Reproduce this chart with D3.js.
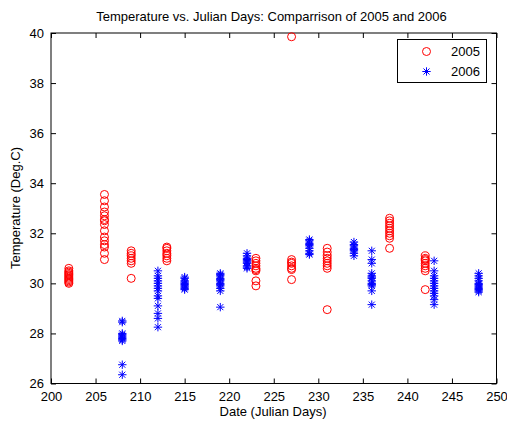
<!DOCTYPE html>
<html lang="en">
<head>
<meta charset="UTF-8">
<title>Temperature vs. Julian Days</title>
<script src="https://cdn.jsdelivr.net/npm/d3@7/dist/d3.min.js"></script>
<style>
  body { margin: 0; background: #fff; }
  text { font-family: "Liberation Sans", Arial, sans-serif; fill: #000; }
</style>
</head>
<body>
<svg width="507" height="421"></svg>
<script>
// Julian day columns and the temperatures read at each one
const days2005 = [202, 206, 209, 213, 223, 227, 231, 238, 242];
const temps2005 = [
  [30.0, 30.05, 30.1, 30.15, 30.2, 30.25, 30.3, 30.35, 30.4, 30.45, 30.5, 30.6],
  [33.55, 33.3, 33.05, 32.85, 32.7, 32.55, 32.5, 32.35, 32.1, 31.85, 31.7, 31.55, 31.45, 31.2, 30.95],
  [31.3, 31.2, 31.1, 31.0, 30.9, 30.8, 30.2],
  [31.45, 31.4, 31.3, 31.2, 31.1, 31.0, 30.9],
  [31.0, 30.9, 30.8, 30.7, 30.6, 30.55, 30.5, 30.1, 29.9],
  [39.85, 30.95, 30.85, 30.8, 30.7, 30.6, 30.55, 30.15],
  [31.4, 31.25, 31.1, 31.0, 30.9, 30.8, 30.7, 30.6, 28.95],
  [32.6, 32.5, 32.4, 32.3, 32.2, 32.1, 32.0, 31.9, 31.8, 31.4],
  [31.1, 31.0, 30.95, 30.9, 30.8, 30.7, 30.6, 30.5, 29.75]
];
const days2006 = [208, 212, 215, 219, 222, 229, 234, 236, 243, 248];
const temps2006 = [
  [28.5, 28.45, 28.0, 27.95, 27.9, 27.85, 27.8, 27.75, 27.7, 26.75, 26.35],
  [30.5, 30.3, 30.2, 30.1, 30.0, 29.9, 29.8, 29.7, 29.5, 29.4, 29.1, 28.8, 28.6, 28.25],
  [30.25, 30.2, 30.1, 30.05, 30.0, 29.95, 29.9, 29.85, 29.8, 29.75],
  [30.4, 30.35, 30.3, 30.2, 30.15, 30.1, 30.0, 29.95, 29.9, 29.8, 29.7, 29.05],
  [31.2, 31.1, 31.0, 30.95, 30.9, 30.85, 30.8, 30.7, 30.65, 30.6],
  [31.75, 31.7, 31.6, 31.55, 31.5, 31.4, 31.3, 31.2, 31.15],
  [31.65, 31.55, 31.5, 31.4, 31.35, 31.3, 31.2, 31.1],
  [31.3, 30.95, 30.8, 30.4, 30.3, 30.25, 30.2, 30.1, 30.0, 29.95, 29.9, 29.7, 29.15],
  [30.9, 30.5, 30.3, 30.2, 30.1, 30.0, 29.9, 29.8, 29.7, 29.6, 29.5, 29.35, 29.15],
  [30.4, 30.3, 30.2, 30.1, 30.0, 29.95, 29.9, 29.85, 29.8, 29.75, 29.7, 29.65]
];
const xTicks = [200, 205, 210, 215, 220, 225, 230, 235, 240, 245, 250];
const yTicks = [26, 28, 30, 32, 34, 36, 38, 40];
const seriesNames = ["2005", "2006"];

const svg = d3.select("svg");
const x = d3.scaleLinear().domain([200, 250]).range([51, 496.5]);
const y = d3.scaleLinear().domain([26, 40]).range([383.5, 33]);

const flat = (days, temps) => days.flatMap((d, i) => temps[i].map(t => ({ day: d, temp: t })));
const pts2005 = flat(days2005, temps2005);
const pts2006 = flat(days2006, temps2006);

// axes, ticks pointing inward, mirrored on top and right
const fontSize = "13px";
svg.append("g")
  .attr("transform", `translate(0,${y(26)})`)
  .call(d3.axisBottom(x).tickValues(xTicks).tickSize(-5).tickPadding(6))
  .call(g => g.select(".domain").remove())
  .call(g => g.selectAll("text").attr("font-size", fontSize).attr("dy", "0.9em"));
svg.append("g")
  .attr("transform", `translate(0,${y(40)})`)
  .call(d3.axisTop(x).tickValues(xTicks).tickSize(-5).tickFormat(""))
  .call(g => g.select(".domain").remove());
svg.append("g")
  .attr("transform", `translate(${x(200)},0)`)
  .call(d3.axisLeft(y).tickValues(yTicks).tickSize(-5).tickPadding(7))
  .call(g => g.select(".domain").remove())
  .call(g => g.selectAll("text").attr("font-size", fontSize));
svg.append("g")
  .attr("transform", `translate(${x(250)},0)`)
  .call(d3.axisRight(y).tickValues(yTicks).tickSize(-5).tickFormat(""))
  .call(g => g.select(".domain").remove());
svg.selectAll(".tick line").attr("stroke", "#000");

svg.append("rect")
  .attr("x", x(200)).attr("y", y(40))
  .attr("width", x(250) - x(200)).attr("height", y(26) - y(40))
  .attr("fill", "none").attr("stroke", "#000").attr("stroke-width", 1);

// markers
const starPath = r => {
  const a = r * 0.72;
  return `M${-r},0L${r},0M0,${-r}L0,${r}M${-a},${-a}L${a},${a}M${-a},${a}L${a},${-a}`;
};

svg.append("g").selectAll("circle")
  .data(pts2005).join("circle")
  .attr("cx", d => x(d.day)).attr("cy", d => y(d.temp))
  .attr("r", 4)
  .attr("fill", "none").attr("stroke", "#ff0000").attr("stroke-width", 1);

svg.append("g").selectAll("path")
  .data(pts2006).join("path")
  .attr("transform", d => `translate(${x(d.day)},${y(d.temp)})`)
  .attr("d", starPath(4.2))
  .attr("fill", "none").attr("stroke", "#0000ff").attr("stroke-width", 1);

// legend
const lg = svg.append("g");
lg.append("rect")
  .attr("x", 397.5).attr("y", 39.5).attr("width", 89).attr("height", 43)
  .attr("fill", "#fff").attr("stroke", "#000");
seriesNames.forEach((name, i) => {
  const cy = 51.5 + i * 20;
  if (i === 0) {
    lg.append("circle").attr("cx", 426.5).attr("cy", cy).attr("r", 4)
      .attr("fill", "none").attr("stroke", "#ff0000");
  } else {
    lg.append("path").attr("transform", `translate(426.5,${cy})`).attr("d", starPath(4.2))
      .attr("fill", "none").attr("stroke", "#0000ff");
  }
  lg.append("text").attr("x", 480).attr("y", cy).attr("dy", "0.35em")
    .attr("text-anchor", "end").attr("font-size", fontSize).text(name);
});

// titles
svg.append("text").attr("x", 271.5).attr("y", 21).attr("text-anchor", "middle")
  .attr("font-size", fontSize).text("Temperature vs. Julian Days: Comparrison of 2005 and 2006");
svg.append("text").attr("x", 273).attr("y", 416).attr("text-anchor", "middle")
  .attr("font-size", fontSize).text("Date (Julian Days)");
svg.append("text").attr("transform", "translate(20,208) rotate(-90)")
  .attr("text-anchor", "middle").attr("font-size", fontSize).text("Temperature (Deg.C)");
</script>
</body>
</html>
